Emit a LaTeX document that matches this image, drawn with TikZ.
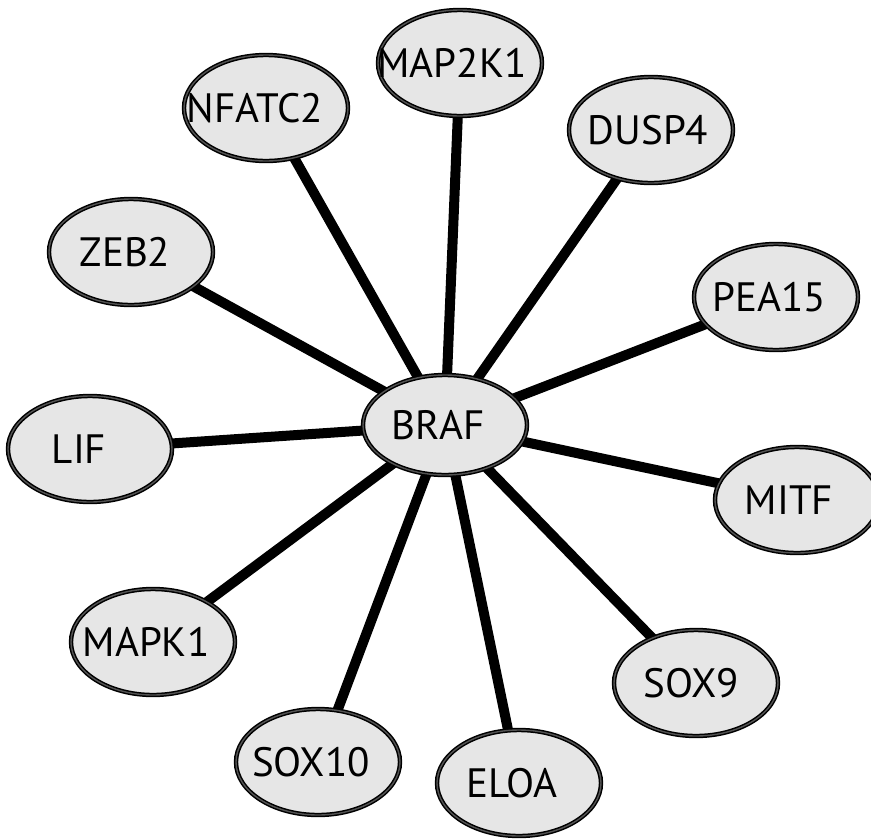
\documentclass[tikz,border=0pt]{standalone}
\usepackage{fontspec}
\setmainfont{PT Sans}
\usetikzlibrary{shapes.geometric,backgrounds}
\definecolor{nodefill}{HTML}{E6E6E6}
\newcommand{\glabel}[3]{\makebox[0pt]{\hspace*{#1}\raisebox{#2}{#3}}}
\tikzset{
  gene/.style={ellipse, fill=nodefill, draw=black, line width=1.5pt,
    double=gray!65!black, double distance=1.4pt,
    minimum width=164pt, minimum height=106pt, inner sep=0pt,
    font=\fontsize{41}{41}\selectfont},
  edge/.style={line width=10pt, black}
}
\begin{document}
\begin{tikzpicture}[x=1pt,y=-1pt]
\useasboundingbox (0,0) rectangle (871,839);
\node[gene, minimum height=100pt] (braf) at (445,425) {\glabel{-14pt}{-4pt}{BRAF}};
\node[gene] (map2k1) at (460,63) {\glabel{-16pt}{-4pt}{MAP2K1}};
\node[gene] (nfatc2) at (266,108) {\glabel{-22pt}{-1pt}{NFATC2}};
\node[gene] (dusp4) at (651,130) {\glabel{-6pt}{-2pt}{DUSP4}};
\node[gene] (zeb2) at (131,252) {\glabel{-12pt}{-3pt}{ZEB2}};
\node[gene] (pea15) at (776,297) {\glabel{-14pt}{0pt}{PEA15}};
\node[gene] (lif) at (90,449) {\glabel{-22pt}{-4pt}{LIF}};
\node[gene] (mitf) at (797,500) {\glabel{-16pt}{-3pt}{MITF}};
\node[gene] (mapk1) at (153,642) {\glabel{-14pt}{-6pt}{MAPK1}};
\node[gene] (sox9) at (696,683) {\glabel{-10pt}{-6pt}{SOX9}};
\node[gene] (sox10) at (318,762) {\glabel{-14pt}{-5pt}{SOX10}};
\node[gene] (eloa) at (519,783) {\glabel{-14pt}{-4pt}{ELOA}};
\begin{pgfonlayer}{background}
\foreach \n in {map2k1,nfatc2,dusp4,zeb2,pea15,lif,mitf,mapk1,sox9,sox10,eloa}
  \draw[edge] (braf.center) -- (\n.center);
\end{pgfonlayer}
\end{tikzpicture}
\end{document}
